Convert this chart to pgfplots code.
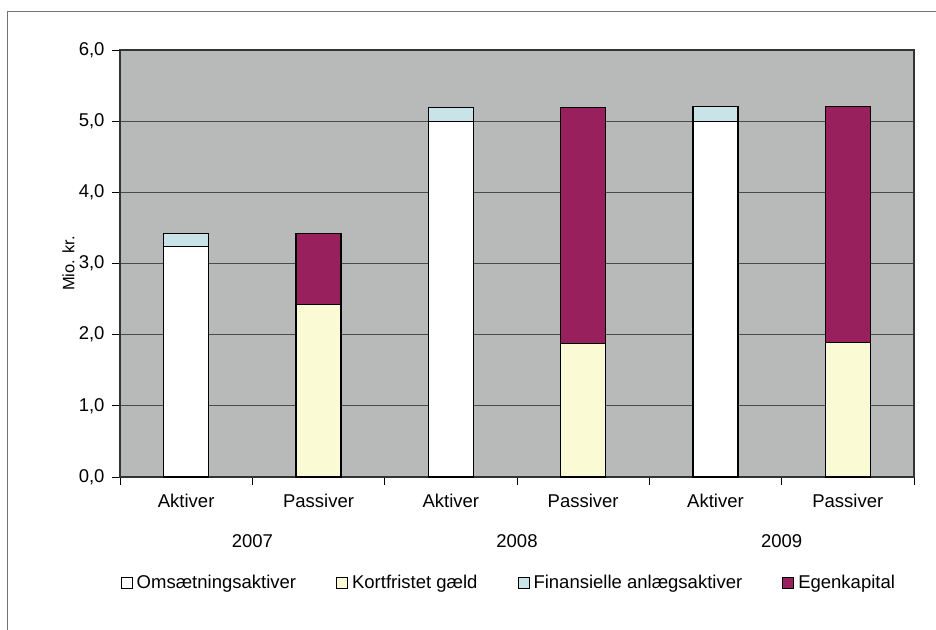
\documentclass[border=0pt]{standalone}
\usepackage{fontspec}
\setmainfont{Liberation Sans}
\usepackage{pgfplots}
\usepackage{pgfplotstable}
\pgfplotsset{compat=1.18}
\definecolor{bggray}{RGB}{184,186,186}
\definecolor{gridgray}{RGB}{75,75,75}
\definecolor{cyellow}{RGB}{250,250,212}
\definecolor{cblue}{RGB}{200,228,232}
\definecolor{cpurple}{RGB}{152,32,92}
\newcommand{\bigf}{\fontsize{18.5bp}{22bp}\selectfont}
\pgfplotstableread{
x omsaet kortfr finans egenk
0 3.24 0    0.18 0
1 0    2.42 0    1.00
2 5.00 0    0.19 0
3 0    1.88 0    3.31
4 5.00 0    0.21 0
5 0    1.89 0    3.32
}\datatable
\begin{document}
\begin{tikzpicture}
\path[use as bounding box] (0,0) rectangle (936bp,630bp);
\draw[black!55, line width=1bp] (7bp,0) -- (7bp,618bp) -- (936bp,618bp);
\begin{axis}[
  at={(120bp,153bp)}, anchor=south west,
  scale only axis, width=794bp, height=427bp,
  ybar stacked, bar width=45bp,
  xmin=-0.5, xmax=5.5, ymin=0, ymax=6,
  xtick={-0.5,0.5,...,5.5},
  x tick label as interval,
  xticklabels={Aktiver,Passiver,Aktiver,Passiver,Aktiver,Passiver},
  ytick={0,1,...,6},
  /pgf/number format/assume math mode=true,
  tick label style={font=\bigf},
  yticklabel style={xshift=-4bp, /pgf/number format/.cd, fixed, fixed zerofill, precision=1, use comma},
  xticklabel style={yshift=-6bp},
  tick align=outside, xtick pos=bottom, ytick pos=left,
  major tick length=8bp,
  tick style={black, line width=1bp},
  axis line style={black!80, line width=1.2bp},
  axis background/.style={fill=bggray},
  ymajorgrids, grid style={gridgray, line width=0.9bp},
  clip=false,
  legend columns=4,
  legend style={draw=none, fill=none, font=\bigf, at={(axis description cs:0.491,-0.248)}, anchor=center,
    nodes={inner sep=4bp, anchor=west},
    /tikz/every even column/.append style={column sep=36bp}},
  sq/.style={legend image code/.code={\draw[##1,draw=black,line width=1bp] (0bp,-5.5bp) rectangle (11bp,5.5bp);}},
]
\addplot[fill=white, draw=black, line width=1.2bp, sq] table[x=x, y=omsaet] {\datatable};
\addlegendentry{Omsætningsaktiver}
\addplot[fill=cyellow, draw=black, line width=1.2bp, sq] table[x=x, y=kortfr] {\datatable};
\addlegendentry{Kortfristet gæld}
\addplot[fill=cblue, draw=black, line width=1.2bp, sq] table[x=x, y=finans] {\datatable};
\addlegendentry{Finansielle anlægsaktiver}
\addplot[fill=cpurple, draw=black, line width=1.2bp, sq] table[x=x, y=egenk] {\datatable};
\addlegendentry{Egenkapital}
\node[anchor=center, yshift=-64bp, font=\bigf] at (axis cs:0.5,0) {2007};
\node[anchor=center, yshift=-64bp, font=\bigf] at (axis cs:2.5,0) {2008};
\node[anchor=center, yshift=-64bp, font=\bigf] at (axis cs:4.5,0) {2009};
\node[rotate=90, anchor=center, font=\fontsize{16.5bp}{20bp}\selectfont] at (axis description cs:-0.065,0.5) {Mio. kr.};
\end{axis}
\end{tikzpicture}
\end{document}
